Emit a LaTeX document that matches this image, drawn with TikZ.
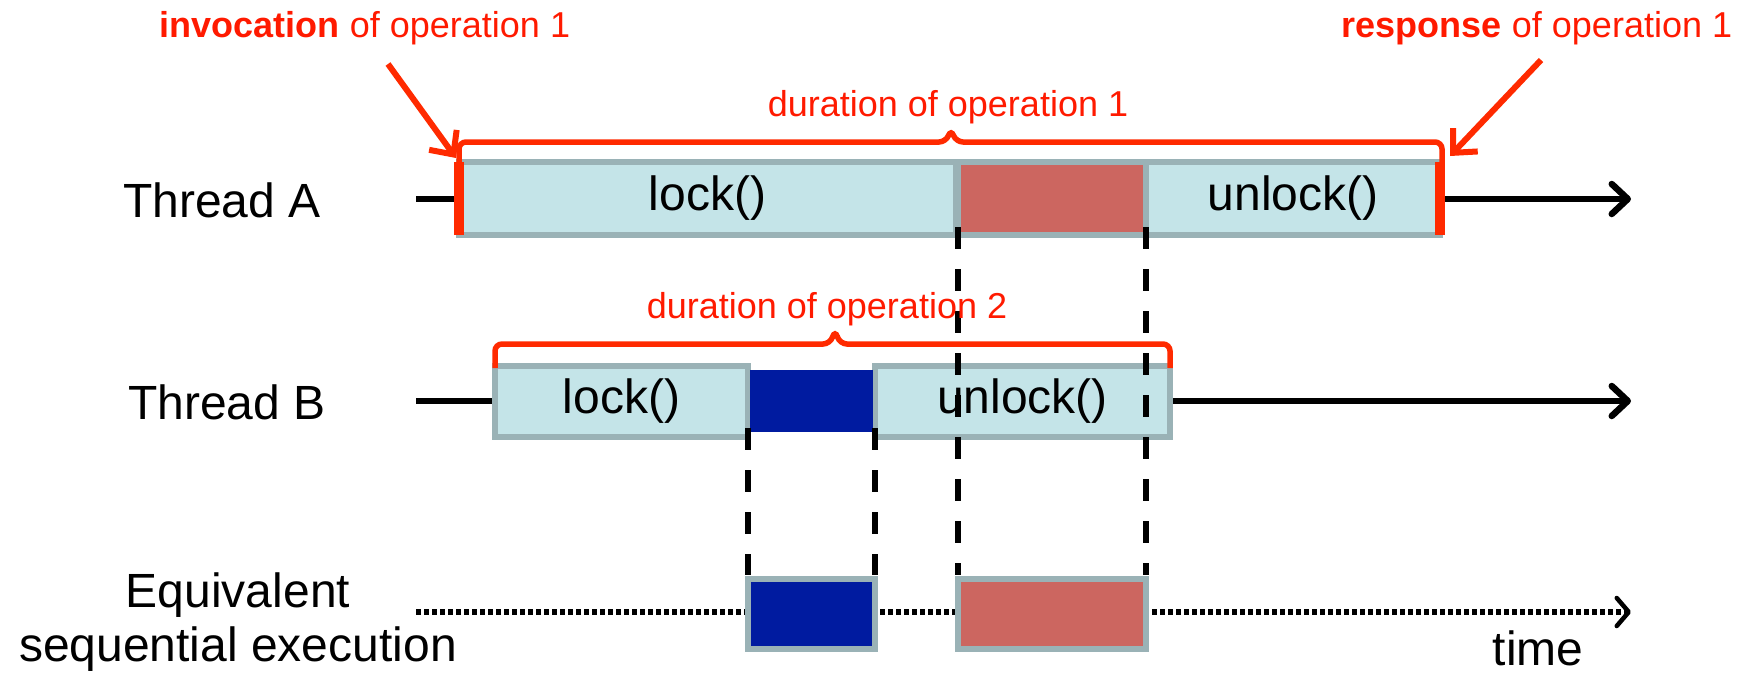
\documentclass[tikz,border=0pt]{standalone}
\usepackage{fontspec}
\setmainfont{Liberation Sans}
\usetikzlibrary{arrows.meta,calc}
\definecolor{opbox}{HTML}{C4E4E8}
\definecolor{opedge}{HTML}{9AB2B6}
\definecolor{critred}{HTML}{CC6660}
\definecolor{critblue}{HTML}{001BA0}
\definecolor{annot}{HTML}{FF2A00}
\definecolor{annottext}{HTML}{FF1A00}
\tikzset{
  seg/.style={draw=opedge, line width=6pt, fill=opbox, inner sep=0pt, outer sep=0pt,
    anchor=north west, font=\fontsize{48}{52}\selectfont},
  crit/.style={seg, fill=#1},
  bigtext/.style={font=\fontsize{48}{56}\selectfont, inner sep=0pt, align=center},
  redtext/.style={font=\fontsize{36}{40}\selectfont, text=annottext, inner sep=0pt},
  timeline/.style={line width=6.5pt, -{Straight Barb[length=16pt,width=30pt,round]}},
  seqline/.style={line width=6pt, dash pattern=on 4.5pt off 3.5pt, -{Straight Barb[length=12pt,width=28pt,line width=4.5pt,round]}},
  brace/.style={draw=annot, line width=5.5pt, rounded corners=7pt},
  endbar/.style={draw=annot, line width=10pt},
  annarrow/.style={draw=annot, line width=6pt, -{Straight Barb[length=18pt,width=34pt]}},
  vdash/.style={line width=6pt, dash pattern=on 22pt off 20pt},
}
\begin{document}
\begin{tikzpicture}[x=1pt,y=-1pt]
\useasboundingbox (0,0) rectangle (1764,677);

% ---- thread labels
\node[bigtext] (labA) at (222,200) {Thread A};
\node[bigtext] (labB) at (227,402) {Thread B};
\node[bigtext, font=\fontsize{48}{54}\selectfont] (labSeq) at (238,622) {Equivalent\\sequential execution};
\node[bigtext] (labTime) at (1538,648) {time};

% ---- time lines
\coordinate (startA) at (416,199);
\coordinate (endA) at (1631,199);
\coordinate (startB) at (416,401);
\coordinate (endB) at (1631,401);
\coordinate (startS) at (416,612);
\coordinate (endS) at (1631,612);
\draw[timeline] (startA) -- (endA);
\draw[timeline] (startB) -- (endB);
\draw[seqline] (startS) -- (endS);

% ---- thread A
\node[seg, minimum width=497pt, minimum height=73pt] (lockA) at (459,162) {lock()};
\node[crit=critred, minimum width=188pt, minimum height=73pt] (critA) at (958,162) {};
\node[seg, minimum width=294pt, minimum height=73pt] (unlockA) at (1146,162) {unlock()};

% ---- thread B
\node[seg, minimum width=253pt, minimum height=71pt] (lockB) at (495,366) {lock()};
\node[seg, minimum width=295pt, minimum height=71pt] (unlockB) at (875,366) {unlock()};
\node[crit=critblue, draw=none, minimum width=123pt, minimum height=62pt] (critB) at (750,370) {};

% ---- sequential execution
\node[crit=critblue, minimum width=127pt, minimum height=70pt] (seqB) at (748,579) {};
\node[crit=critred, minimum width=188pt, minimum height=70pt] (seqA) at (958,579) {};

% ---- projections of the critical sections
\draw[vdash] ($(critA.south west)+(0,-8)$) -- ($(seqA.north west)+(0,-4)$);
\draw[vdash] ($(critA.south east)+(0,-8)$) -- ($(seqA.north east)+(0,-4)$);
\draw[vdash] ($(critB.south west)+(-2,-4)$) -- ($(seqB.north west)+(0,-4)$);
\draw[vdash] ($(critB.south east)+(2,-4)$) -- ($(seqB.north east)+(0,-4)$);

% ---- operation 1 interval
\draw[endbar] (lockA.north west) -- (lockA.south west);
\draw[endbar] (unlockA.north east) -- (unlockA.south east);
\draw[brace] ($(lockA.north west)+(0,2)$) -- ($(lockA.north west)+(0,-20)$)
  -- (946,142) -- (951,129) -- (956,142)
  -- ($(unlockA.north east)+(2,-20)$) -- ($(unlockA.north east)+(2,2)$);
\node[redtext] (dur1) at (948,107) {duration of operation 1};

\node[redtext] (inv) at (365,28) {\textbf{invocation} of operation 1};
\node[redtext] (resp) at (1537,28) {\textbf{response} of operation 1};
\coordinate (invTail) at (388,64);
\coordinate (respTail) at (1541,60);
\draw[annarrow] (invTail) -- ($(lockA.north west)+(-3,-4)$);
\draw[annarrow] (respTail) -- ($(unlockA.north east)+(10,-6)$);

% ---- operation 2 interval
\draw[brace] ($(lockB.north west)+(0,2)$) -- ($(lockB.north west)+(0,-22)$)
  -- (830,344) -- (835,330) -- (840,344)
  -- ($(unlockB.north east)+(0,-22)$) -- ($(unlockB.north east)+(0,2)$);
\node[redtext] (dur2) at (827,309) {duration of operation 2};
\end{tikzpicture}
\end{document}
